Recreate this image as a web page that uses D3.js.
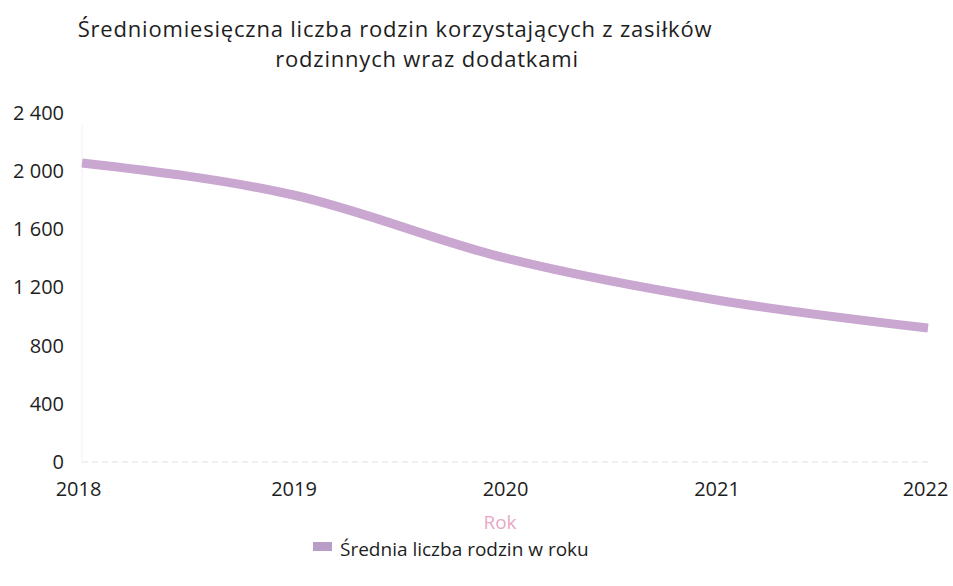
<!DOCTYPE html>
<html><head><meta charset="utf-8">
<script src="https://cdn.jsdelivr.net/npm/d3@7"></script>
<style>body{margin:0;background:#fff;} text{font-family:"Open Sans","Noto Sans",sans-serif;}</style>
</head><body><svg id="c" width="953" height="586"></svg>
<script>
const years = ["2018","2019","2020","2021","2022"];
const values = [2056, 1836, 1403, 1114, 921];
const yTicks = [0, 400, 800, 1200, 1600, 2000, 2400];
const titleLines = ["Średniomiesięczna liczba rodzin korzystających z zasiłków", "rodzinnych wraz dodatkami"];
const xTitle = "Rok";
const seriesName = "Średnia liczba rodzin w roku";

const svg = d3.select("#c");
const x = d3.scalePoint().domain(years).range([82, 928]);
const y = d3.scaleLinear().domain([0, 2400]).range([462, 113]);
const fmt = v => d3.format(",")(v).replace(/,/g, " ");

// title
svg.append("text").attr("x", 395).attr("y", 37).attr("text-anchor", "middle")
  .attr("font-size", 22).attr("letter-spacing", 0.8).attr("fill", "#1e1e1e").text(titleLines[0]);
svg.append("text").attr("x", 427).attr("y", 67).attr("text-anchor", "middle")
  .attr("font-size", 22).attr("letter-spacing", 0.8).attr("fill", "#1e1e1e").text(titleLines[1]);

// baseline faint
svg.append("line").attr("x1", 82).attr("x2", 928).attr("y1", y(0)).attr("y2", y(0))
  .attr("stroke", "#ececf0").attr("stroke-width", 1.5).attr("stroke-dasharray", "6,4");
svg.append("line").attr("x1", 82).attr("x2", 82).attr("y1", 125).attr("y2", y(0))
  .attr("stroke", "#f5f0f6").attr("stroke-width", 1);

// y axis
const ya = d3.axisLeft(y).tickValues(yTicks).tickFormat(fmt).tickSize(0).tickPadding(0);
const gy = svg.append("g").attr("transform", "translate(64,0)").call(ya);
gy.select(".domain").remove();
gy.selectAll("text").attr("font-size", 20).attr("fill", "#1e1e1e").attr("font-family", "'Open Sans',sans-serif");

// x axis
const xa = d3.axisBottom(x).tickSize(0).tickPadding(0);
const gx = svg.append("g").attr("transform", "translate(0,482)").call(xa);
gx.select(".domain").remove();
gx.selectAll("text").attr("font-size", 20).attr("fill", "#1e1e1e").attr("font-family", "'Open Sans',sans-serif")
  .attr("dx", (d,i) => i === 0 ? -4 : (i === years.length-1 ? -3 : 0));

// line
const line = d3.line().x((d,i) => x(years[i])).y(d => y(d)).curve(d3.curveMonotoneX);
svg.append("path").datum(values).attr("d", line).attr("fill", "none")
  .attr("stroke", "#c9a7d0").attr("stroke-width", 9).attr("stroke-linecap", "butt");

// x title
svg.append("text").attr("x", 500).attr("y", 529).attr("text-anchor", "middle")
  .attr("font-size", 19).attr("fill", "#e9a7c6").text(xTitle);

// legend
svg.append("rect").attr("x", 313).attr("y", 542).attr("width", 19).attr("height", 9).attr("fill", "#b89ec6");
svg.append("text").attr("x", 340).attr("y", 556).attr("font-size", 19).attr("fill", "#1e1e1e").text(seriesName);
</script></body></html>
